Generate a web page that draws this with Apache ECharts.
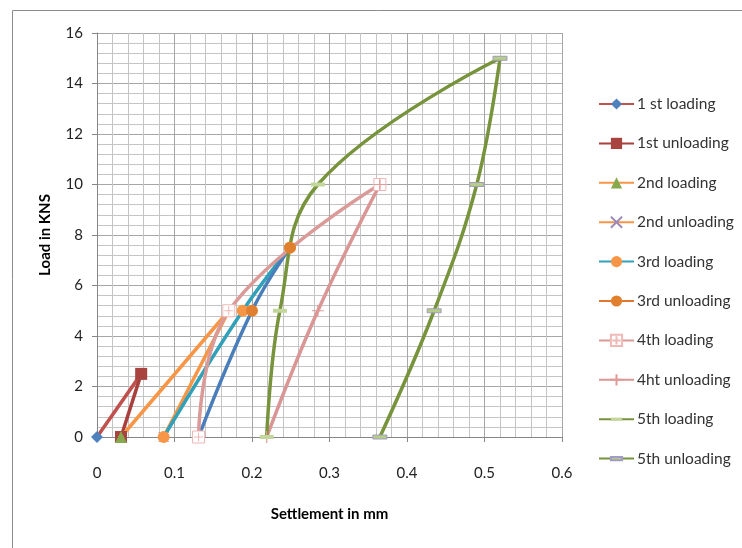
<!DOCTYPE html>
<html>
<head>
<meta charset="utf-8">
<script src="https://cdn.jsdelivr.net/npm/echarts@6/dist/echarts.min.js"></script>
<style>
  html, body { margin: 0; padding: 0; background: #ffffff; }
  #chart { width: 742px; height: 548px; }
</style>
</head>
<body>
<div id="chart"></div>
<script>
// Plate load test: settlement (mm) against load (kN) for each load cycle
const firstLoading    = [[0, 0], [0.057, 2.5]];
const firstUnloading  = [[0.057, 2.5], [0.031, 0]];
const secondLoading   = [[0.031, 0], [0.170, 5]];
const secondUnloading = [[0.170, 5], [0.086, 0]];
const thirdLoading    = [[0.086, 0], [0.188, 5], [0.249, 7.5]];
const thirdUnloading  = [[0.249, 7.5], [0.200, 5], [0.131, 0]];
const fourthLoading   = [[0.131, 0], [0.170, 5], [0.365, 10]];
const fourthUnloading = [[0.365, 10], [0.285, 5], [0.219, 0]];
const fifthLoading    = [[0.219, 0], [0.236, 5], [0.285, 10], [0.520, 15]];
const fifthUnloading  = [[0.520, 15], [0.490, 10], [0.435, 5], [0.365, 0]];

const seriesNames = [
  '1 st loading', '1st unloading', '2nd loading', '2nd unloading',
  '3rd loading', '3rd unloading', '4th loading', '4ht unloading',
  '5th loading', '5th unloading'
];

// axis ranges and tick steps
const xRange = [0, 0.6], xStep = 0.1;
const yRange = [0, 16],  yStep = 2;
const axisTitles = ['Settlement in mm', 'Load in KNS'];

// marker shapes
const plusBox  = 'path://M0,0H12V12H0Z M6,1.5V10.5 M1.5,6H10.5';
const plusOpen = 'path://M6,0V12 M0,6H12';
const cross    = 'path://M0,0L12,12 M12,0L0,12';
const dash     = 'path://M0,0 M0,5H14V9H0Z M14,14';

const FONT = 'Lato, "Open Sans", sans-serif';

function line(name, data, lineColor, symbol, symbolSize, itemStyle, smooth) {
  return {
    name: name,
    type: 'line',
    data: data,
    smooth: smooth || false,
    symbol: symbol,
    symbolSize: symbolSize,
    showAllSymbol: true,
    lineStyle: { color: lineColor, width: 3.5 },
    itemStyle: itemStyle,
    emphasis: { disabled: true },
    animation: false
  };
}

const SM = 0.4;
const series = [
  line(seriesNames[0], firstLoading, '#C0504D', 'diamond', 12,
       { color: '#4F81BD', borderWidth: 0 }),
  line(seriesNames[1], firstUnloading, '#A8403D', 'rect', 12,
       { color: '#A94340', borderWidth: 0 }),
  line(seriesNames[2], secondLoading, '#F79646', 'triangle', 12,
       { color: '#86A94E', borderWidth: 0 }),
  line(seriesNames[3], secondUnloading, '#F79646', cross, 10,
       { color: 'rgba(0,0,0,0)', borderColor: '#9B87BC', borderWidth: 1 }),
  line(seriesNames[4], thirdLoading, '#31A0B9', 'circle', 12,
       { color: '#F79646', borderWidth: 0 }, SM),
  line(seriesNames[5], thirdUnloading, '#4A7EBB', 'circle', 12,
       { color: '#E0802F', borderWidth: 0 }, SM),
  line(seriesNames[6], fourthLoading, '#DA9A98', plusBox, 12,
       { color: '#ffffff', borderColor: '#F0B8B6', borderWidth: 1 }, SM),
  line(seriesNames[7], fourthUnloading, '#D99694', plusOpen, 12,
       { color: 'rgba(0,0,0,0)', borderColor: '#E09A98', borderWidth: 1.2 }, SM),
  line(seriesNames[8], fifthLoading, '#77933C', dash, 14,
       { color: '#C3D69B', borderWidth: 0 }, SM),
  line(seriesNames[9], fifthUnloading, '#77933C', dash, 14,
       { color: '#B5CF84', borderColor: '#A49BC4', borderWidth: 1 }, SM)
];

const legendData = seriesNames.map(function (n, i) {
  const item = { name: n };
  if (i === 5) item.lineStyle = { color: '#E0782E' };
  return item;
});

const chart = echarts.init(document.getElementById('chart'), null, { renderer: 'canvas' });
chart.setOption({
  backgroundColor: '#ffffff',
  animation: false,
  grid: { left: 97, right: 180, top: 33, bottom: 111, containLabel: false },
  xAxis: {
    type: 'value',
    min: xRange[0], max: xRange[1], interval: xStep,
    name: axisTitles[0],
    nameLocation: 'middle',
    nameGap: 70,
    nameTextStyle: { fontFamily: FONT, fontSize: 15, fontWeight: 'bold', color: '#000' },
    axisLine: { show: true, onZero: false, lineStyle: { color: '#868686', width: 1 } },
    axisTick: { show: true, length: 5, lineStyle: { color: '#868686' } },
    axisLabel: { margin: 29, fontFamily: FONT, fontSize: 15, color: '#222' },
    splitLine: { show: true, lineStyle: { color: '#A6A6A6', width: 1 } },
    minorTick: { show: false, splitNumber: 5 },
    minorSplitLine: { show: true, lineStyle: { color: '#C4C4C4', width: 1 } }
  },
  yAxis: {
    type: 'value',
    min: yRange[0], max: yRange[1], interval: yStep,
    name: axisTitles[1],
    nameLocation: 'middle',
    nameGap: 44,
    nameRotate: 90,
    nameTextStyle: { fontFamily: FONT, fontSize: 15, fontWeight: 'bold', color: '#000' },
    axisLine: { show: true, onZero: false, lineStyle: { color: '#868686', width: 1 } },
    axisTick: { show: true, length: 5, lineStyle: { color: '#868686' } },
    axisLabel: { margin: 14, fontFamily: FONT, fontSize: 15, color: '#222' },
    splitLine: { show: true, lineStyle: { color: '#A6A6A6', width: 1 } },
    minorTick: { show: false, splitNumber: 5 },
    minorSplitLine: { show: true, lineStyle: { color: '#C4C4C4', width: 1 } }
  },
  legend: {
    orient: 'vertical',
    left: 598,
    top: 96,
    itemWidth: 35,
    itemHeight: 14,
    itemGap: 23.4,
    padding: 0,
    selectedMode: false,
    data: legendData,
    textStyle: { fontFamily: FONT, fontSize: 15.5, lineHeight: 16, color: '#333', padding: [0, 0, 0, -2] }
  },
  graphic: [{
    type: 'rect',
    left: 10, top: 8,
    shape: { width: 760, height: 560 },
    style: { fill: 'none', stroke: '#8C8C8C', lineWidth: 1 },
    silent: true,
    z: -1
  }],
  series: series
});
</script>
</body>
</html>
